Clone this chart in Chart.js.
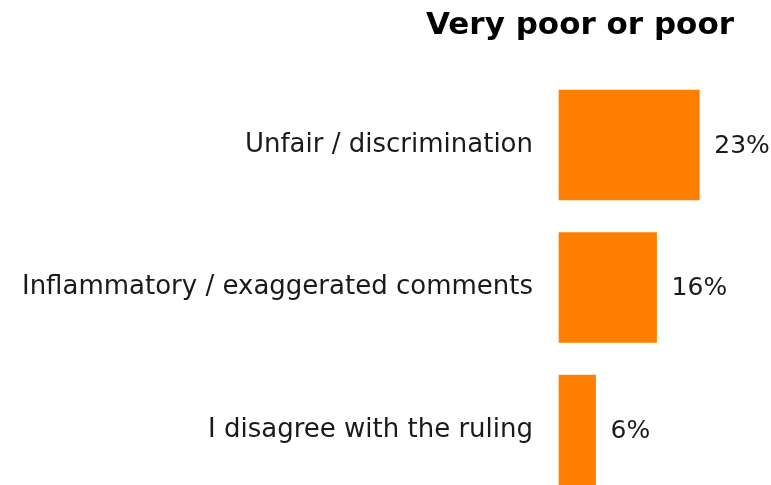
<!DOCTYPE html>
<html>
<head>
<meta charset="utf-8">
<script src="https://cdn.jsdelivr.net/npm/chart.js@4.4.1/dist/chart.umd.min.js"></script>
<style>
  html, body { margin: 0; padding: 0; background: #fff; overflow: hidden; }
  #wrap { width: 771px; height: 485px; position: relative; }
</style>
</head>
<body>
<div id="wrap"><canvas id="reasonsChart"></canvas></div>
<script>
const chartTitle = 'Very poor or poor';
const reasons = ['Unfair / discrimination', 'Inflammatory / exaggerated comments', 'I disagree with the ruling'];
const shares = [23, 16, 6];

const FONT = "'DejaVu Sans', sans-serif";
const TEXT_COLOR = '#1a1a1a';

// title and percentage labels next to each bar
const labelsPlugin = {
    id: 'barLabels',
    afterDatasetsDraw(chart) {
        const ctx = chart.ctx;
        const area = chart.chartArea;
        ctx.save();
        ctx.fillStyle = '#000';
        ctx.font = 'bold 31px ' + FONT;
        ctx.textAlign = 'center';
        ctx.textBaseline = 'middle';
        ctx.fillText(chartTitle, area.left + 21, 26);

        ctx.fillStyle = TEXT_COLOR;
        ctx.font = '25px ' + FONT;
        ctx.textAlign = 'left';
        chart.getDatasetMeta(0).data.forEach((bar, i) => {
            ctx.fillText(shares[i] + '%', bar.x + 15, bar.y + 1);
        });
        ctx.restore();
    }
};

const ctx = document.getElementById('reasonsChart').getContext('2d');
new Chart(ctx, {
    type: 'bar',
    data: {
        labels: reasons,
        datasets: [{
            data: shares,
            backgroundColor: '#FF7F00',
            borderWidth: 0,
            barThickness: 110,
            clip: false
        }]
    },
    options: {
        indexAxis: 'y',
        responsive: true,
        maintainAspectRatio: false,
        animation: false,
        layout: {
            padding: { top: 145, bottom: 55, left: 0, right: 29 }
        },
        plugins: {
            legend: { display: false },
            tooltip: { enabled: false },
            title: { display: false }
        },
        scales: {
            x: {
                display: false,
                min: 0,
                max: 30
            },
            y: {
                offset: false,
                grid: { display: false },
                border: { display: false },
                ticks: {
                    padding: 18,
                    color: TEXT_COLOR,
                    font: { family: FONT, size: 26 }
                },
                afterFit(scale) {
                    scale.width = 559;
                }
            }
        }
    },
    plugins: [labelsPlugin]
});
</script>
</body>
</html>
